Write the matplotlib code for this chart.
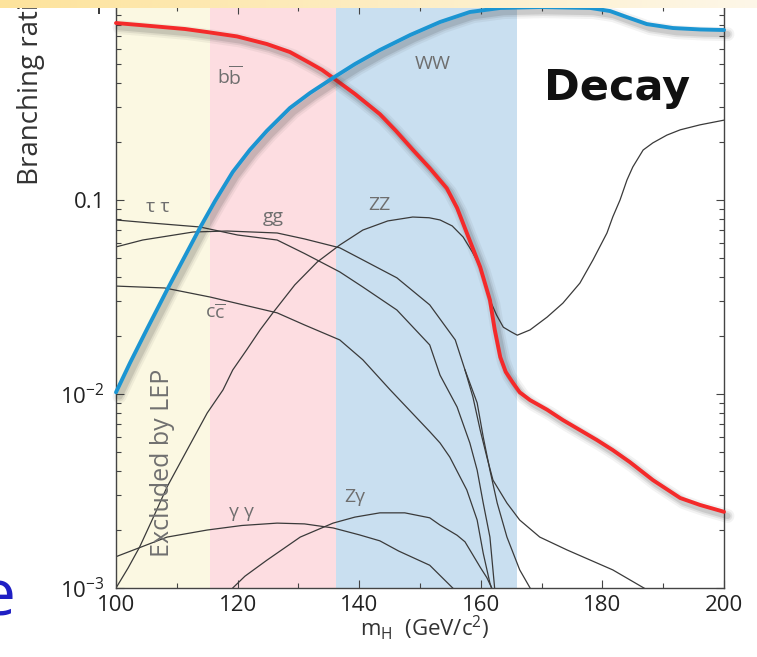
import numpy as np
import matplotlib
matplotlib.use("Agg")
import matplotlib.pyplot as plt
import matplotlib.patheffects as pe
from matplotlib.colors import LinearSegmentedColormap
from matplotlib.ticker import FixedLocator, LogLocator, MultipleLocator, NullFormatter

plt.rcParams['font.family'] = ['Open Sans', 'DejaVu Sans']
plt.rcParams['mathtext.fontset'] = 'custom'
plt.rcParams['mathtext.rm'] = 'Open Sans'
plt.rcParams['mathtext.default'] = 'regular'

# Higgs branching ratios vs mass (GeV/c^2)
mh_bb = [100, 103.9, 107.7, 111.35, 115.0, 119.9, 124.8, 128.6, 131.9, 133.9, 135.7, 139.3, 143.4,
         146.05, 148.85, 151.6, 154.4, 156.1, 157.7, 159.9, 161.5, 162.3, 163.2, 164.1, 165.3,
         166.4, 168.1, 170.9, 173.5, 176.3, 179.1, 181.7, 184.5, 188.3, 192.8, 196.05, 200]
br_bb = [0.817, 0.798, 0.779, 0.761, 0.734, 0.697, 0.637, 0.579, 0.508, 0.468, 0.426, 0.352,
         0.277, 0.227, 0.181, 0.146, 0.115, 0.091, 0.0676, 0.0451, 0.0305, 0.0214, 0.0155, 0.013,
         0.0114, 0.0102, 0.0093, 0.0083, 0.00734, 0.00652, 0.00579, 0.00514, 0.00446, 0.0036,
         0.00291, 0.00268, 0.00247]

mh_ww = [100, 102.3, 105.1, 108.4, 111.35, 113.8, 116.3, 119.2, 122.0, 124.8, 128.6, 131.9, 135.7,
         139.3, 143.4, 148.4, 153.3, 158.2, 163.2, 169.7, 178.0, 181.25, 184.0, 187.3, 191.6,
         196.1, 200]
br_ww = [0.0102, 0.01445, 0.0216, 0.0344, 0.0514, 0.0718, 0.0989, 0.1394, 0.181, 0.227, 0.298,
         0.356, 0.426, 0.502, 0.593, 0.709, 0.827, 0.931, 0.977, 0.988, 0.977, 0.942, 0.877, 0.807,
         0.77, 0.757, 0.752]

mh_tautau = [100, 106, 113.8, 120, 126.5, 131, 136.8, 140.6, 146.2, 151.6, 153.3, 156.1, 158.2,
             159.4, 160.4, 161.5, 162.0, 162.3]
br_tautau = [0.0789, 0.076, 0.0726, 0.066, 0.0622, 0.053, 0.0426, 0.0356, 0.0271, 0.0179, 0.0125,
             0.00857, 0.00559, 0.00405, 0.00274, 0.00183, 0.00124, 0.00098]

mh_gg = [100, 104.4, 112.7, 118.3, 126.5, 131, 136.8, 140.6, 146.2, 151.6, 155.8, 157.4, 158.7,
         159.9, 161.0, 162.0, 164.3, 166.4, 169.7, 174.2, 181.7, 188.3]
br_gg = [0.0573, 0.0622, 0.0684, 0.0692, 0.0676, 0.063, 0.0567, 0.0491, 0.0397, 0.0288, 0.019,
         0.0133, 0.00966, 0.00652, 0.00473, 0.0036, 0.00274, 0.00224, 0.00183, 0.00157, 0.00124,
         0.00094]

# second gg trace, splits off just above the WW threshold
mh_gg2 = [157.4, 159.4, 160.4, 161.5, 162.7, 164.3, 166.4, 168.6]
br_gg2 = [0.0133, 0.0090, 0.0060, 0.00405, 0.00274, 0.00183, 0.00124, 0.00094]

mh_cc = [100, 108, 115.5, 126.5, 131, 136.8, 140.6, 145.1, 151.6, 153.3, 154.9, 157.7, 159.4,
         160.4, 161.5, 162.0]
br_cc = [0.036, 0.0352, 0.0316, 0.0262, 0.0227, 0.019, 0.015, 0.0105, 0.0064, 0.00559, 0.00473,
         0.0032, 0.00224, 0.00151, 0.00106, 0.00095]

mh_zz = [100, 102.0, 103.9, 106.1, 108.4, 111.7, 115.0, 117.6, 119.2, 121.5, 123.7, 125.8, 129.4,
         133.1, 136.8, 140.6, 144.7, 148.8, 151.5, 153.3, 155.3, 157.1, 158.6, 159.9, 161.5, 162.6,
         163.7, 165.0, 166.0, 168.1, 170.9, 173.5, 176.3, 178.45, 180.75, 181.7, 182.9, 184.05,
         185.0, 186.7, 188.3, 190.6, 192.8, 196.05, 200]
br_zz = [0.001, 0.00127, 0.00163, 0.0023, 0.00332, 0.00515, 0.00798, 0.0105, 0.0133, 0.0169,
         0.0214, 0.0262, 0.0365, 0.0479, 0.0586, 0.070, 0.078, 0.0817, 0.081, 0.0789, 0.0735,
         0.0644, 0.054, 0.0451, 0.0305, 0.0255, 0.0221, 0.0209, 0.0201, 0.0214, 0.0249, 0.0294,
         0.0373, 0.0491, 0.0676, 0.0817, 0.1, 0.127, 0.148, 0.181, 0.197, 0.216, 0.230, 0.244,
         0.258]

mh_gamgam = [100, 108.4, 115, 120.7, 126.5, 131, 135.7, 140, 143.4, 146.5, 151.6, 156.1]
br_gamgam = [0.00145, 0.00183, 0.00199, 0.0021, 0.00216, 0.00214, 0.00204, 0.00188, 0.00175,
             0.00155, 0.00131, 0.00095]

mh_zgam = [119.2, 121.2, 124.8, 130.3, 135.7, 139.3, 143.4, 147.5, 151.6, 153.3, 156.1, 157.4,
           158.7, 159.9, 161.0, 162.0]
br_zgam = [0.001, 0.00115, 0.00139, 0.00183, 0.00216, 0.00232, 0.00244, 0.00244, 0.0023, 0.00211,
           0.00187, 0.00173, 0.00148, 0.00128, 0.00113, 0.00097]

# mass regions: excluded by LEP, then two shaded windows
band_edges = [100, 115.5, 136.2, 165.9]
band_colors = ['#fbf8e2', '#fddde1', '#c9dff0']

# curve labels: text, mass, BR
curve_labels = [(r'b$\overline{\mathrm{b}}$', 118.8, 0.43), ('WW', 152.1, 0.50),
                ('τ τ', 106.9, 0.092), ('gg', 125.8, 0.082), ('ZZ', 143.4, 0.094),
                (r'c$\overline{\mathrm{c}}$', 116.3, 0.0262), ('γ γ', 120.7, 0.00247),
                ('Zγ', 139.3, 0.00294)]

fig = plt.figure(figsize=(7.57, 6.57), dpi=100)
ax = fig.add_axes([116 / 757, 69 / 657, 608 / 757, 582 / 657])

for i in range(3):
    ax.axvspan(band_edges[i], band_edges[i + 1], color=band_colors[i], lw=0, zorder=0)

thin = dict(color='#3a3a3a', lw=0.9, zorder=2)
for mh, br in [(mh_tautau, br_tautau), (mh_gg, br_gg), (mh_gg2, br_gg2), (mh_cc, br_cc),
               (mh_zz, br_zz), (mh_gamgam, br_gamgam), (mh_zgam, br_zgam)]:
    ax.plot(mh, br, **thin)

# thick curves with a soft drop shadow
shadow = [pe.SimpleLineShadow(offset=(2.5, -3), shadow_color='0.2', alpha=a, linewidth=w)
          for w, a in [(10, 0.06), (7, 0.09), (4.5, 0.13)]]
shadow.append(pe.Normal())
ax.plot(mh_bb, br_bb, color='#f42a2a', lw=2.8, zorder=5, clip_on=False,
        solid_capstyle='round', solid_joinstyle='round', path_effects=shadow)
ax.plot(mh_ww, br_ww, color='#1b95d2', lw=2.8, zorder=5, clip_on=False,
        solid_capstyle='round', solid_joinstyle='round', path_effects=shadow)

for txt, x, y in curve_labels:
    ax.text(x, y, txt, color='#6e6e6e', fontsize=14, ha='center', va='center', zorder=3)

ax.text(107.6, 0.0044, 'Excluded by LEP', rotation=90, color='#707070', fontsize=18,
        ha='center', va='center', zorder=3)
ax.text(182.4, 0.38, 'Decay', fontsize=31, fontweight='bold', family='DejaVu Sans',
        color='#111111', ha='center', va='center', zorder=6)

ax.set_yscale('log')
ax.set_xlim(100, 200)
ax.set_ylim(1e-3, 1)
ax.xaxis.set_major_locator(MultipleLocator(20))
ax.xaxis.set_minor_locator(MultipleLocator(10))
ax.yaxis.set_major_locator(FixedLocator([1e-3, 1e-2, 1e-1, 1]))
ax.set_yticklabels(['10$^{-3}$', '10$^{-2}$', '0.1', '1'])
ax.yaxis.set_minor_locator(LogLocator(base=10, subs=np.arange(2, 10)))
ax.yaxis.set_minor_formatter(NullFormatter())
ax.tick_params(which='both', direction='in', top=True, right=True, color='#444444', width=0.8)
ax.tick_params(which='major', length=6, labelsize=16, labelcolor='#222222')
ax.tick_params(which='minor', length=3.5)
ax.tick_params(axis='y', pad=8)
ax.tick_params(axis='x', pad=5)
for s in ax.spines.values():
    s.set_color('#444444')
    s.set_linewidth(1.0)

fig.text(31 / 757, 1 - 185 / 657, 'Branching ratio', rotation=90, fontsize=20,
         color='#333333', ha='center', va='bottom')
fig.text(425 / 757, 1 - 628 / 657, r'm$_{H}$  (GeV/c$^{2}$)', fontsize=16,
         color='#333333', ha='center', va='center')
fig.text(15 / 757, 1 - 598 / 657, 'e', fontsize=46, color='#1f1fc4', ha='right', va='center')

# slide header strip across the top edge
band = fig.add_axes([0, 1 - 8 / 657, 1, 8 / 657], zorder=10)
cmap = LinearSegmentedColormap.from_list('strip', ['#fde39c', '#fdedc2', '#fdf7e8'])
band.imshow(np.linspace(0, 1, 256)[None, :], cmap=cmap, aspect='auto')
band.axis('off')

fig.savefig('out.png', dpi=100)
